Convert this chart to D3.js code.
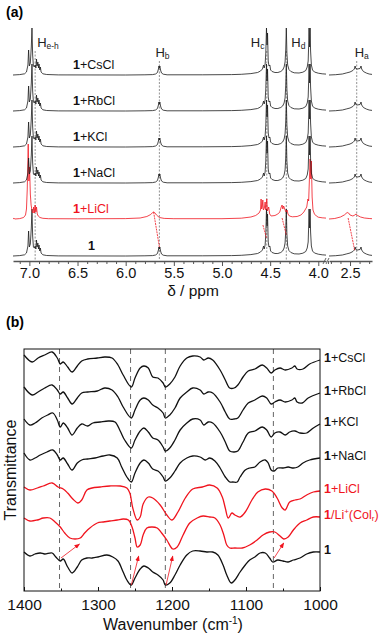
<!DOCTYPE html>
<html>
<head>
<meta charset="utf-8">
<script src="https://cdn.jsdelivr.net/npm/d3@7.9.0/dist/d3.min.js"></script>
<style>
  html, body { margin: 0; padding: 0; background: #fff; }
  svg { display: block; font-family: "Liberation Sans", Arial, sans-serif; }
</style>
</head>
<body>
<svg id="fig" width="384" height="636"></svg>
<script>
// ---------- (a) 1H NMR, intensities ----------
const nmrRows    = ['1', '1+LiCl', '1+NaCl', '1+KCl', '1+RbCl', '1+CsCl'];
const nmrOffsets = [0, 37, 73, 109, 145, 181];

// free ligand / Na-Cs salts (they look the same), 7.17 -> 3.92 ppm
const freeLeft = [
  [7.17,0],[7.1,0.4],[7.05,1.2],[7.03,3],[7.015,10],[7.008,25],[7.0,9],[6.99,12],[6.98,28],[6.973,47],
  [6.966,20],[6.958,9],[6.948,8],[6.94,10],[6.932,7],[6.926,16],[6.92,9],[6.912,13],[6.905,7],[6.9,11],
  [6.892,5],[6.886,8],[6.878,3],[6.86,1.2],[6.82,0.5],[6.7,0.1],[6.0,0],[5.8,0.2],[5.72,0.4],[5.69,1],
  [5.67,2.5],[5.66,6],[5.655,9],[5.65,7],[5.645,9],[5.638,5],[5.628,2],[5.61,0.8],[5.57,0.2],[5.2,0.2],
  [4.9,0.4],[4.8,0.7],[4.7,1.4],[4.63,2.5],[4.6,4],[4.58,6],[4.568,10],[4.562,7],[4.552,11],[4.545,22],
  [4.538,47],[4.532,30],[4.527,42],[4.52,14],[4.512,9],[4.503,10],[4.495,5],[4.48,3.5],[4.45,2.5],[4.42,2.5],
  [4.39,3.5],[4.37,5],[4.355,8],[4.345,13],[4.338,25],[4.332,47],[4.326,22],[4.318,10],[4.305,5.5],[4.285,3.5],
  [4.25,2.2],[4.2,2],[4.16,2.8],[4.13,4.5],[4.115,8],[4.105,14],[4.1,30],[4.096,47],[4.09,28],[4.085,47],
  [4.08,24],[4.072,10],[4.06,5],[4.04,3],[4.0,1.8],[3.96,1.2],[3.92,0.9]
];
// 2.72 -> 2.27 ppm
const freeRight = [
  [2.72,0],[2.65,0.3],[2.58,1],[2.54,2],[2.5,3],[2.47,4.5],[2.455,6],[2.447,9],[2.44,6.5],[2.425,6],
  [2.395,6.5],[2.385,9],[2.378,6],[2.36,3.5],[2.33,2],[2.3,1],[2.27,0.6]
];
// with LiCl
const liLeft = [
  [7.17,0],[7.16,0.8],[7.15,0],[7.1,0.4],[7.06,1.5],[7.04,4],[7.03,10],[7.022,30],[7.012,75],[7.005,38],
  [6.998,52],[6.99,25],[6.982,14],[6.972,8],[6.962,6],[6.955,12],[6.948,6],[6.94,14],[6.933,7],[6.926,12],
  [6.918,5],[6.908,3],[6.89,1.5],[6.86,0.7],[6.8,0.3],[6.5,0.2],[6.0,0.4],[5.85,1],[5.78,2.5],[5.74,4.5],
  [5.72,6.5],[5.71,7],[5.7,6.5],[5.68,4],[5.65,1.5],[5.6,0.6],[5.5,0.3],[5.0,0.3],[4.8,0.8],[4.7,2],
  [4.65,3.5],[4.615,6],[4.6,9],[4.594,20],[4.588,10],[4.582,12],[4.576,19],[4.57,9],[4.56,11],[4.552,17],
  [4.545,9],[4.535,20],[4.528,8],[4.515,12],[4.505,5],[4.49,3],[4.45,3.5],[4.42,5],[4.4,7],[4.385,12],
  [4.376,14],[4.368,10],[4.36,13],[4.352,11],[4.345,9],[4.335,7],[4.324,9],[4.315,5],[4.3,3],[4.27,2.2],
  [4.22,2.5],[4.18,4],[4.15,7],[4.12,12],[4.108,20],[4.1,18],[4.085,60],[4.078,40],[4.072,58],[4.064,22],
  [4.055,9],[4.04,5],[4.02,3],[4.0,1.8],[3.96,1.2],[3.92,0.9]
];
const liRight = [
  [2.72,0],[2.66,0.5],[2.6,2],[2.56,4],[2.53,6.5],[2.515,6],[2.5,4],[2.47,3],[2.45,4],[2.437,5],
  [2.42,3.5],[2.39,2],[2.35,1],[2.3,0.5],[2.27,0.3]
];
// red guides LiCl peak -> free peak  [ppm, intensity]
const shiftLines = [
  [[5.71, 44], [5.65, 9]],
  [[4.575, 31], [4.538, 18]],
  [[4.376, 38], [4.332, 21]],
  [[2.52, 38], [2.45, 5]]
];
const protonLabels = [
  { ppm: 6.94, main: 'H', sub: 'e-h', dx: 2, top: 47 },
  { ppm: 5.65, main: 'H', sub: 'b', dx: -4, top: 57 },
  { ppm: 4.535, main: 'H', sub: 'c', dx: -16, top: 47 },
  { ppm: 4.332, main: 'H', sub: 'd', dx: 5, top: 47 },
  { ppm: 2.43, main: 'H', sub: 'a', dx: -2, top: 57 }
];
const ticksLeftMajor = [7.0, 6.5, 6.0, 5.5, 5.0, 4.5, 4.0];
const ticksRightMajor = [2.5];

// ---------- (b) IR, wavenumber vs transmittance (stacked, arb. units) ----------
const irLabels = ['1', '1/Li+(Colr)', '1+LiCl', '1+NaCl', '1+KCl', '1+RbCl', '1+CsCl'];
const irPristine = [
  [1400,39],[1392,35],[1385,37],[1378,38],[1372,37],[1362,38],[1357,34],[1351,30],[1347,32],[1341,24],
  [1335,18],[1328,24],[1322,31],[1315,33],[1308,33],[1300,34],[1288,36],[1280,34],[1273,30],[1266,19],
  [1261,11],[1255,6],[1250,13],[1243,22],[1238,25],[1232,23],[1226,19],[1219,16],[1212,11],[1209,6],
  [1203,8],[1196,16],[1189,26],[1180,36],[1172,40],[1162,40],[1153,39],[1145,39],[1138,36],[1131,26],
  [1126,16],[1120,8],[1115,11],[1108,19],[1101,26],[1095,31],[1088,34],[1081,38],[1074,38],[1068,33],
  [1064,29],[1057,31],[1050,30],[1043,29],[1036,31],[1027,33],[1018,37],[1009,39],[1000,39]
];
const irLiCol = [
  [1400,73],[1392,70],[1382,71],[1374,73],[1365,73],[1358,69],[1351,64],[1345,58],[1338,53],[1331,52],
  [1324,53],[1318,58],[1311,63],[1301,68],[1293,69],[1284,70],[1274,71],[1266,72],[1259,71],[1254,64],
  [1250,53],[1247,44],[1243,46],[1239,56],[1234,63],[1227,64],[1220,63],[1214,58],[1207,51],[1199,42],
  [1193,44],[1185,56],[1176,68],[1166,73],[1158,75],[1149,74],[1142,73],[1135,66],[1130,56],[1126,46],
  [1122,43],[1115,43],[1105,43],[1095,46],[1085,51],[1077,56],[1068,59],[1061,59],[1054,55],[1049,52],
  [1043,54],[1036,61],[1027,68],[1018,71],[1009,74],[1000,74]
];
const irLiCl = [
  [1400,104],[1392,101],[1382,103],[1374,105],[1362,108],[1354,104],[1347,102],[1341,98],[1334,92],[1327,88],
  [1322,91],[1315,101],[1308,103],[1297,104],[1284,105],[1270,105],[1261,103],[1257,98],[1253,83],[1247,71],
  [1243,74],[1239,87],[1232,94],[1226,93],[1216,86],[1207,76],[1200,71],[1192,79],[1182,93],[1172,102],
  [1159,104],[1149,106],[1139,103],[1132,94],[1128,83],[1124,73],[1119,78],[1115,76],[1108,74],[1101,79],
  [1092,91],[1084,99],[1074,102],[1065,100],[1058,93],[1051,83],[1047,81],[1041,89],[1034,91],[1027,92],
  [1018,96],[1009,99],[1000,100]
];
const irNaCl = [
  [1400,138],[1392,131],[1385,133],[1378,136],[1369,139],[1361,141],[1355,136],[1351,131],[1347,133],[1341,127],
  [1335,121],[1328,128],[1322,131],[1314,132],[1304,133],[1293,135],[1284,136],[1274,133],[1268,124],[1261,114],
  [1255,109],[1250,118],[1243,128],[1238,131],[1232,128],[1226,122],[1219,120],[1212,114],[1209,110],[1203,113],
  [1196,120],[1189,128],[1180,133],[1172,135],[1162,134],[1155,131],[1149,133],[1142,130],[1135,123],[1128,114],
  [1122,109],[1118,109],[1112,109],[1108,114],[1101,121],[1095,123],[1088,124],[1081,129],[1074,131],[1070,128],
  [1066,121],[1062,120],[1057,123],[1050,123],[1043,124],[1036,123],[1030,124],[1023,128],[1014,131],[1000,133]
];
const irKCl = [
  [1400,172],[1392,166],[1385,168],[1376,173],[1368,176],[1361,178],[1355,171],[1351,164],[1347,168],[1341,163],
  [1335,156],[1328,163],[1322,167],[1314,165],[1307,168],[1297,169],[1286,170],[1277,169],[1270,160],[1264,151],
  [1255,143],[1250,151],[1243,160],[1238,163],[1232,159],[1226,153],[1219,151],[1212,144],[1209,140],[1203,143],
  [1196,151],[1189,161],[1180,168],[1172,172],[1162,171],[1157,166],[1151,169],[1145,168],[1135,159],[1128,149],
  [1122,140],[1116,139],[1111,140],[1104,149],[1097,158],[1088,160],[1078,164],[1072,161],[1066,154],[1061,158],
  [1054,159],[1047,156],[1041,159],[1034,160],[1027,158],[1018,158],[1009,163],[1000,167]
];
const irRbCl = [
  [1400,204],[1389,196],[1381,199],[1372,203],[1362,206],[1355,201],[1351,197],[1347,199],[1341,193],[1335,187],
  [1328,193],[1322,198],[1314,199],[1301,200],[1291,203],[1281,201],[1273,194],[1266,184],[1255,173],[1250,181],
  [1243,191],[1238,193],[1232,191],[1226,186],[1219,183],[1212,178],[1209,173],[1203,176],[1196,183],[1189,193],
  [1180,199],[1172,203],[1162,201],[1157,197],[1151,199],[1145,198],[1135,189],[1128,179],[1122,172],[1116,172],
  [1111,173],[1104,181],[1097,188],[1088,191],[1078,195],[1072,193],[1066,187],[1061,189],[1054,191],[1047,189],
  [1038,191],[1034,193],[1031,189],[1024,188],[1016,193],[1000,198]
];
const irCsCl = [
  [1400,236],[1389,229],[1381,233],[1372,236],[1362,239],[1355,233],[1351,227],[1347,229],[1341,224],[1335,219],
  [1328,225],[1322,230],[1314,232],[1301,233],[1291,234],[1281,233],[1273,226],[1266,216],[1255,204],[1250,213],
  [1243,223],[1238,225],[1232,223],[1226,214],[1219,213],[1212,208],[1209,204],[1203,207],[1196,214],[1189,225],
  [1180,233],[1172,235],[1162,234],[1157,231],[1151,233],[1145,231],[1135,221],[1128,211],[1122,203],[1116,203],
  [1111,206],[1104,214],[1097,220],[1088,222],[1078,226],[1072,223],[1066,218],[1061,221],[1054,223],[1047,221],
  [1038,223],[1034,225],[1031,222],[1023,222],[1014,227],[1000,231]
];
const irSeries = [irPristine, irLiCol, irLiCl, irNaCl, irKCl, irRbCl, irCsCl];
const irRed = [false, true, true, false, false, false, false];
const irGuides = [1352, 1256, 1209, 1063];
const irArrows = [
  [[1350, 33], [1325, 47]],
  [[1255, 6], [1245, 35]],
  [[1208, 6], [1199, 35]],
  [[1062, 33], [1049, 48]]
];
const irTicks = [1400, 1300, 1200, 1100, 1000];
const irMinor = [1350, 1250, 1150, 1050];

const RED = '#f0141e';
const FONT = '"Liberation Sans", Arial, sans-serif';
const svg = d3.select('#fig');

svg.append('defs').append('marker')
    .attr('id', 'arr').attr('viewBox', '0 0 10 10').attr('refX', 9).attr('refY', 5)
    .attr('markerWidth', 7).attr('markerHeight', 7).attr('orient', 'auto')
  .append('path').attr('d', 'M0,1 L10,5 L0,9 Z').attr('fill', RED);

// ===== panel (a) =====
svg.append('text').attr('x', 6).attr('y', 17).attr('font-size', 14).attr('font-weight', 'bold').text('(a)');

const xL = d3.scaleLinear().domain([7.17, 3.92]).range([13, 326]);
const xR = d3.scaleLinear().domain([2.72, 2.27]).range([329, 372]);
const yN = d3.scaleLinear().domain([0, 230]).range([256, 26]);

const ga = svg.append('g');

// guide lines
protonLabels.forEach(p => {
  const x = p.ppm > 3 ? xL(p.ppm) : xR(p.ppm);
  ga.append('line').attr('x1', x).attr('x2', x).attr('y1', p.top + 4).attr('y2', 260)
    .attr('stroke', '#777').attr('stroke-width', 0.8).attr('stroke-dasharray', '2,1.5');
  const t = ga.append('text').attr('x', x + p.dx).attr('y', p.top).attr('font-size', 13).attr('fill', '#222');
  t.append('tspan').text(p.main);
  t.append('tspan').attr('font-size', 8.5).attr('dy', 2).text(p.sub);
});

const lineL = d3.line().x(d => xL(d[0])).y(d => d[1]);
const lineR = d3.line().x(d => xR(d[0])).y(d => d[1]);

nmrRows.forEach((name, i) => {
  const off = nmrOffsets[i];
  const isLi = name === '1+LiCl';
  const col = isLi ? RED : '#1a1a1a';
  const left = (isLi ? liLeft : freeLeft).map(d => [d[0], yN(d[1] + off)]);
  const right = (isLi ? liRight : freeRight).map(d => [d[0], yN(d[1] + off)]);
  ga.append('path').attr('d', lineL(left)).attr('fill', 'none').attr('stroke', col).attr('stroke-width', 0.8);
  ga.append('path').attr('d', lineR(right)).attr('fill', 'none').attr('stroke', col).attr('stroke-width', 0.8);

  const lab = ga.append('text')
      .attr('x', name === '1' ? 88 : 73).attr('y', yN(off + 9))
      .attr('dominant-baseline', 'middle').attr('font-size', 12.5)
      .attr('fill', isLi ? RED : '#111');
  lab.append('tspan').attr('font-weight', 'bold').text('1');
  if (name !== '1') lab.append('tspan').text(name.slice(1));
});

shiftLines.forEach(s => {
  const sx = s[0][0] > 3 ? xL : xR;
  ga.append('line')
    .attr('x1', sx(s[0][0])).attr('y1', yN(s[0][1]))
    .attr('x2', sx(s[1][0])).attr('y2', yN(s[1][1]))
    .attr('stroke', RED).attr('stroke-width', 0.8).attr('stroke-dasharray', '2,0.8');
});

// NMR axis (broken)
function styleAxis(g) {
  g.selectAll('path.domain').attr('stroke', '#555').attr('stroke-width', 1.6);
  g.selectAll('line').attr('stroke', '#555').attr('stroke-width', 1);
  g.selectAll('text').attr('font-size', 14.5).attr('fill', '#111').attr('font-family', FONT);
}
const axL = ga.append('g').attr('transform', 'translate(0,261)')
  .call(d3.axisBottom(xL).tickValues(ticksLeftMajor).tickFormat(d3.format('.1f')).tickSize(5).tickSizeOuter(0).tickPadding(2));
styleAxis(axL);
ga.append('g').attr('transform', 'translate(0,261)')
  .call(d3.axisBottom(xL).tickValues(d3.range(39, 72).map(v => v / 10).filter(v => !ticksLeftMajor.includes(v)))
    .tickFormat('').tickSize(3).tickSizeOuter(0))
  .call(g => { g.select('path.domain').remove(); g.selectAll('line').attr('stroke', '#555'); });
const axR = ga.append('g').attr('transform', 'translate(0,261)')
  .call(d3.axisBottom(xR).tickValues(ticksRightMajor).tickFormat(d3.format('.1f')).tickSize(5).tickSizeOuter(0).tickPadding(2));
styleAxis(axR);
ga.append('g').attr('transform', 'translate(0,261)')
  .call(d3.axisBottom(xR).tickValues([2.7, 2.6, 2.4, 2.3]).tickFormat('').tickSize(3).tickSizeOuter(0))
  .call(g => { g.select('path.domain').remove(); g.selectAll('line').attr('stroke', '#555'); });
// break marks
[324.5, 327.5].forEach(x => ga.append('line').attr('x1', x - 1.5).attr('y1', 264).attr('x2', x + 1.5).attr('y2', 258)
  .attr('stroke', '#555').attr('stroke-width', 0.9));
ga.append('text').attr('x', 193).attr('y', 296).attr('text-anchor', 'middle').attr('font-size', 15.5).attr('fill', '#111')
  .text('δ / ppm');

// ===== panel (b) =====
svg.append('text').attr('x', 6).attr('y', 327).attr('font-size', 14).attr('font-weight', 'bold').text('(b)');

const xIR = d3.scaleLinear().domain([1400, 1000]).range([24, 320]);
const yIR = d3.scaleLinear().domain([0, 242]).range([591, 349]);
const gb = svg.append('g');

irGuides.forEach(w => gb.append('line')
  .attr('x1', xIR(w)).attr('x2', xIR(w)).attr('y1', 349).attr('y2', 591)
  .attr('stroke', '#555').attr('stroke-width', 0.9).attr('stroke-dasharray', '5,4'));

const irLine = d3.line().x(d => xIR(d[0])).y(d => yIR(d[1])).curve(d3.curveCatmullRom.alpha(0.5));
irSeries.forEach((s, i) => {
  gb.append('path').attr('d', irLine(s)).attr('fill', 'none')
    .attr('stroke', irRed[i] ? RED : '#111').attr('stroke-width', 1.3);
});

irArrows.forEach(a => gb.append('line')
  .attr('x1', xIR(a[0][0])).attr('y1', yIR(a[0][1]))
  .attr('x2', xIR(a[1][0])).attr('y2', yIR(a[1][1]))
  .attr('stroke', RED).attr('stroke-width', 0.8).attr('marker-end', 'url(#arr)'));

gb.append('rect').attr('x', 24).attr('y', 349).attr('width', 296).attr('height', 242)
  .attr('fill', 'none').attr('stroke', '#111').attr('stroke-width', 1);

const axB = gb.append('g').attr('transform', 'translate(0,591)')
  .call(d3.axisBottom(xIR).tickValues(irTicks).tickFormat(d3.format('d')).tickSize(-4).tickSizeOuter(0).tickPadding(8));
axB.select('path.domain').remove();
axB.selectAll('line').attr('stroke', '#111');
axB.selectAll('text').attr('font-size', 15.5).attr('fill', '#111').attr('font-family', FONT);
gb.append('g').attr('transform', 'translate(0,591)')
  .call(d3.axisBottom(xIR).tickValues(irMinor).tickFormat('').tickSize(-2.5).tickSizeOuter(0))
  .call(g => { g.select('path.domain').remove(); g.selectAll('line').attr('stroke', '#111'); });

const xt = gb.append('text').attr('x', 173).attr('y', 630).attr('text-anchor', 'middle').attr('font-size', 16).attr('fill', '#111');
xt.append('tspan').text('Wavenumber (cm');
xt.append('tspan').attr('font-size', 10).attr('dy', -6).text('-1');
xt.append('tspan').attr('dy', 6).text(')');

gb.append('text').attr('transform', 'translate(16,470) rotate(-90)').attr('text-anchor', 'middle')
  .attr('font-size', 16).attr('fill', '#111').text('Transmittance');

irLabels.forEach((name, i) => {
  const s = irSeries[i];
  const t = gb.append('text').attr('x', 324).attr('y', yIR(s[s.length - 1][1]) - 1)
    .attr('dominant-baseline', 'middle').attr('font-size', 12.5)
    .attr('fill', irRed[i] ? RED : '#111');
  t.append('tspan').attr('font-weight', 'bold').text('1');
  if (name === '1/Li+(Colr)') {
    t.append('tspan').text('/Li');
    t.append('tspan').attr('font-size', 8).attr('dy', -4).text('+');
    t.append('tspan').attr('dy', 4).text('(Col');
    t.append('tspan').attr('font-size', 8).attr('dy', 3).text('r');
    t.append('tspan').attr('dy', -3).text(')');
  } else if (name !== '1') {
    t.append('tspan').text(name.slice(1));
  }
});
</script>
</body>
</html>
